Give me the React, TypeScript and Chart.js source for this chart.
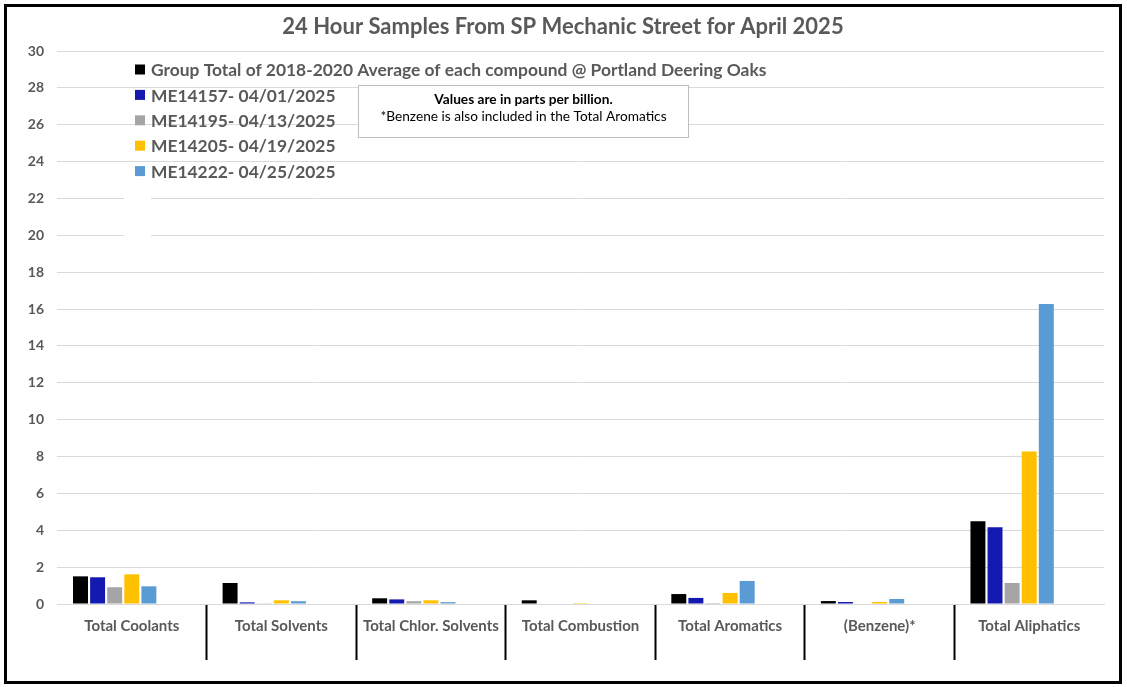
import React, { useEffect, useRef } from "react";
import { Chart, registerables } from "chart.js";

Chart.register(...registerables);

const titleText = "24 Hour Samples From SP Mechanic Street for April 2025";
const categories = [
  "Total Coolants",
  "Total Solvents",
  "Total Chlor. Solvents",
  "Total Combustion",
  "Total Aromatics",
  "(Benzene)*",
  "Total Aliphatics",
];
const seriesNames = [
  "Group Total of 2018-2020 Average of each compound @ Portland Deering Oaks",
  "ME14157- 04/01/2025",
  "ME14195- 04/13/2025",
  "ME14205- 04/19/2025",
  "ME14222- 04/25/2025",
];
const seriesColors = ["#000000", "#1419B0", "#A5A5A5", "#FFC000", "#5B9BD5"];

const groupAverage = [1.5, 1.14, 0.31, 0.2, 0.54, 0.16, 4.49];
const me14157 = [1.45, 0.09, 0.25, 0, 0.33, 0.11, 4.16];
const me14195 = [0.91, 0.04, 0.15, 0, 0.05, 0, 1.14];
const me14205 = [1.61, 0.2, 0.2, 0.05, 0.6, 0.11, 8.27];
const me14222 = [0.96, 0.15, 0.1, 0, 1.25, 0.27, 16.27];
// two empty series slots present in the original chart (no legend entry, no bars)
const emptySlotA = [null, null, null, null, null, null, null];
const emptySlotB = [null, null, null, null, null, null, null];

const yMin = 0;
const yMax = 30;
const yStep = 2;

const noteLines = [
  "Values are in parts per billion.",
  "*Benzene is also included in the Total Aromatics",
];

const FONT = "Lato, 'Open Sans', sans-serif";
const GRAY_TEXT = "#595959";

const overlayPlugin = {
  id: "overlay",
  afterDraw(chart: any) {
    const ctx = chart.ctx;
    const area = chart.chartArea;
    ctx.save();
    // title
    ctx.fillStyle = GRAY_TEXT;
    ctx.font = `bold 22px ${FONT}`;
    ctx.textAlign = "center";
    ctx.textBaseline = "middle";
    ctx.fillText(titleText, 563, 27);

    // small white gap left by original legend frame
    ctx.fillStyle = "#ffffff";
    ctx.fillRect(area.left + 67, 188, 27, 56);

    // legend
    ctx.textAlign = "left";
    ctx.textBaseline = "middle";
    ctx.font = `bold 17.4px ${FONT}`;
    seriesNames.forEach((name, i) => {
      const cy = 69.5 + i * 25.4;
      ctx.fillStyle = seriesColors[i];
      ctx.fillRect(135, cy - 5, 10, 10);
      ctx.fillStyle = GRAY_TEXT;
      ctx.fillText(name, 151, cy + 1);
    });

    // note box
    const bx = 358.5, by = 85.5, bw = 330, bh = 52;
    ctx.fillStyle = "#ffffff";
    ctx.fillRect(bx, by, bw, bh);
    ctx.strokeStyle = "#BFBFBF";
    ctx.lineWidth = 1;
    ctx.strokeRect(bx, by, bw, bh);
    ctx.fillStyle = "#000000";
    ctx.textAlign = "center";
    ctx.font = `bold 13.7px ${FONT}`;
    ctx.fillText(noteLines[0], bx + bw / 2, 100);
    ctx.font = `13.7px ${FONT}`;
    ctx.fillText(noteLines[1], bx + bw / 2, 117);
    ctx.restore();
  },
};

export default function App() {
  const canvasRef = useRef<HTMLCanvasElement | null>(null);

  useEffect(() => {
    const canvas = canvasRef.current;
    if (!canvas) return;
    const values = [groupAverage, me14157, me14195, me14205, me14222];
    const datasets: any[] = values.map((d, i) => ({
      label: seriesNames[i],
      data: d,
      backgroundColor: seriesColors[i],
      borderWidth: 0,
    }));
    datasets.push({ label: "", data: emptySlotA, backgroundColor: "transparent" });
    datasets.push({ label: "", data: emptySlotB, backgroundColor: "transparent" });

    const sepColor = (c: any) =>
      c.index === undefined || c.index === 0 ? "rgba(0,0,0,0)" : "#000000";

    const chart = new Chart(canvas, {
      type: "bar",
      data: { labels: categories, datasets },
      plugins: [overlayPlugin],
      options: {
        animation: false,
        responsive: false,
        maintainAspectRatio: false,
        layout: { padding: { left: 0, top: 51, right: 23, bottom: 0 } },
        datasets: {
          bar: { categoryPercentage: 0.8, barPercentage: 0.875 },
        },
        plugins: {
          legend: { display: false },
          title: { display: false },
          tooltip: { enabled: false },
        },
        scales: {
          x: {
            offset: true,
            grid: {
              offset: true,
              drawOnChartArea: false,
              drawTicks: true,
              tickLength: 56,
              tickWidth: 2,
              color: sepColor,
              tickColor: sepColor,
            },
            border: { display: true, color: "#D9D9D9", width: 1 },
            ticks: {
              padding: -43,
              color: GRAY_TEXT,
              font: { family: FONT, size: 15, weight: "bold" },
              maxRotation: 0,
              autoSkip: false,
            },
            afterFit(scale: any) {
              scale.height = 83;
            },
          },
          y: {
            min: yMin,
            max: yMax,
            ticks: {
              stepSize: yStep,
              padding: 13,
              color: GRAY_TEXT,
              font: { family: FONT, size: 14, weight: "bold" },
            },
            grid: { color: "#D9D9D9", drawTicks: false, lineWidth: 1 },
            border: { display: false },
            afterFit(scale: any) {
              scale.width = 57;
            },
          },
        },
      } as any,
    });
    return () => chart.destroy();
  }, []);

  return (
    <div
      style={{
        position: "fixed",
        left: 0,
        top: 0,
        width: 1127,
        height: 687,
        background: "#ffffff",
      }}
    >
      <canvas
        ref={canvasRef}
        width={1127}
        height={687}
        style={{ position: "absolute", left: 0, top: 0, width: 1127, height: 687 }}
      />
      <div
        style={{
          position: "absolute",
          left: 4,
          top: 4,
          width: 1118,
          height: 680,
          border: "3px solid #000000",
          boxSizing: "border-box",
          pointerEvents: "none",
        }}
      />
    </div>
  );
}
